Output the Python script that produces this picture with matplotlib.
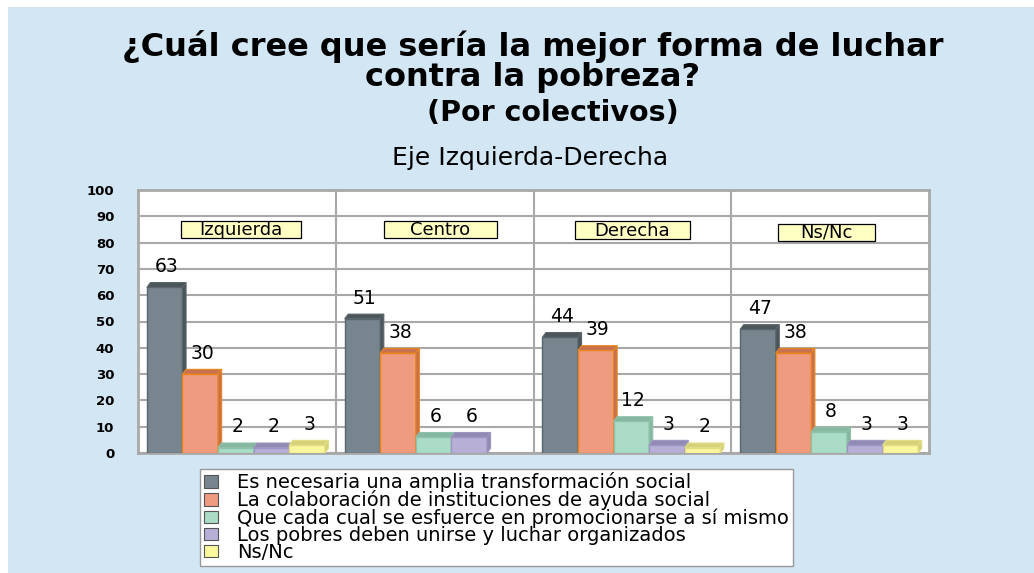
import numpy as np
import matplotlib.pyplot as plt
from matplotlib.patches import Rectangle, Polygon

# Datos
grupos = ['Izquierda', 'Centro', 'Derecha', 'Ns/Nc']
respuestas = ['Es necesaria una amplia transformación social',
              'La colaboración de instituciones de ayuda social',
              'Que cada cual se esfuerce en promocionarse a sí mismo',
              'Los pobres deben unirse y luchar organizados',
              'Ns/Nc']
transformacion = [63, 51, 44, 47]
colaboracion = [30, 38, 39, 38]
esfuerzo = [2, 6, 12, 8]
unirse = [2, 6, 3, 3]
nsnc = [3, 0, 2, 3]
series = [transformacion, colaboracion, esfuerzo, unirse, nsnc]

# Colores (frente, lado/techo, borde)
frente = ['#76858E', '#EE9B80', '#AADCC6', '#B8AFD7', '#FBF79C']
lado = ['#4B555A', '#C9714F', '#86B7A0', '#918AB3', '#D6D27A']
borde = ['#5A666D', '#E8861E', '#8EC2AA', '#9E96C2', '#E2DD86']
fondo = '#D3E6F4'

fig = plt.figure(figsize=(10.34, 5.73), dpi=100)
fig.patches.append(Rectangle((8 / 1034, 0), 1, 1 - 7 / 573, transform=fig.transFigure,
                             facecolor=fondo, edgecolor='none', zorder=-10))

fig.text(0.515, 0.893, '¿Cuál cree que sería la mejor forma de luchar\ncontra la pobreza?',
         ha='center', va='center', fontsize=23, fontweight='bold', linespacing=0.95)
fig.text(0.535, 0.803, '(Por colectivos)', ha='center', va='center',
         fontsize=20.5, fontweight='bold')
fig.text(0.513, 0.724, 'Eje Izquierda-Derecha', ha='center', va='center', fontsize=18)

ax = fig.add_axes([138 / 1034, 120 / 573, (929 - 138) / 1034, (453 - 190) / 573])
ax.set_facecolor('white')
ax.set_xlim(0, 4)
ax.set_ylim(0, 100)

ancho = 0.18
inicio = 0.045
dx, dy = 0.018, 1.8

for j, vals in enumerate(series):
    for i, v in enumerate(vals):
        if v == 0:
            continue
        x0 = i + inicio + j * ancho
        ax.add_patch(Rectangle((x0, 0), ancho, v, facecolor=frente[j],
                               edgecolor=borde[j], lw=1, zorder=3))
        # techo y lado para el efecto 3D
        ax.add_patch(Polygon([(x0, v), (x0 + dx, v + dy), (x0 + ancho + dx, v + dy),
                              (x0 + ancho, v)], closed=True, facecolor=lado[j],
                             edgecolor=borde[j], lw=0.8, zorder=3))
        ax.add_patch(Polygon([(x0 + ancho, 0), (x0 + ancho + dx, dy), (x0 + ancho + dx, v + dy),
                              (x0 + ancho, v)], closed=True, facecolor=lado[j],
                             edgecolor=borde[j], lw=0.8, zorder=3))
        ax.text(x0 + ancho / 2 + 0.01, v + dy + 2.5, str(v), ha='center', va='bottom',
                fontsize=13.5, zorder=4)

# etiquetas de grupo con su caja
caja_x = [0.52, 1.53, 2.5, 3.48]
caja_y = [85, 85, 84.8, 84]
caja_w = [0.61, 0.57, 0.58, 0.49]
caja_h = 6.5
for i, g in enumerate(grupos):
    ax.add_patch(Rectangle((caja_x[i] - caja_w[i] / 2, caja_y[i] - caja_h / 2), caja_w[i], caja_h,
                           facecolor='#FFFFC4', edgecolor='black', lw=0.9, zorder=4))
    ax.text(caja_x[i], caja_y[i] - 0.3, g, ha='center', va='center', fontsize=13, zorder=5)

ax.set_yticks(np.arange(0, 101, 10))
ax.set_yticklabels([str(t) for t in range(0, 101, 10)], fontsize=9.5, fontweight='bold')
ax.tick_params(axis='y', length=0, pad=17)
ax.set_xticks([])
ax.yaxis.grid(True, color='#A8A8A8', lw=1.5, zorder=0)
for i in range(1, 4):
    ax.axvline(i, color='#A8A8A8', lw=1.5, zorder=0)
for s in ax.spines.values():
    s.set_color('#A8A8A8')
    s.set_linewidth(2)

# leyenda
handles = [Rectangle((0, 0), 1, 1, facecolor=frente[k], edgecolor='#555555', lw=0.8)
           for k in range(5)]
leg = fig.legend(handles, respuestas, loc='lower left', bbox_to_anchor=(200 / 1034, 7 / 573),
                 fontsize=14, frameon=True, fancybox=False, framealpha=1, borderpad=0.2,
                 labelspacing=-0.1, handlelength=0.7, handleheight=0.6, handletextpad=1.0,
                 borderaxespad=0)
leg.get_frame().set_edgecolor('#999999')
leg.get_frame().set_facecolor('white')
leg.get_frame().set_linewidth(1)

plt.savefig('out.png', dpi=100)
